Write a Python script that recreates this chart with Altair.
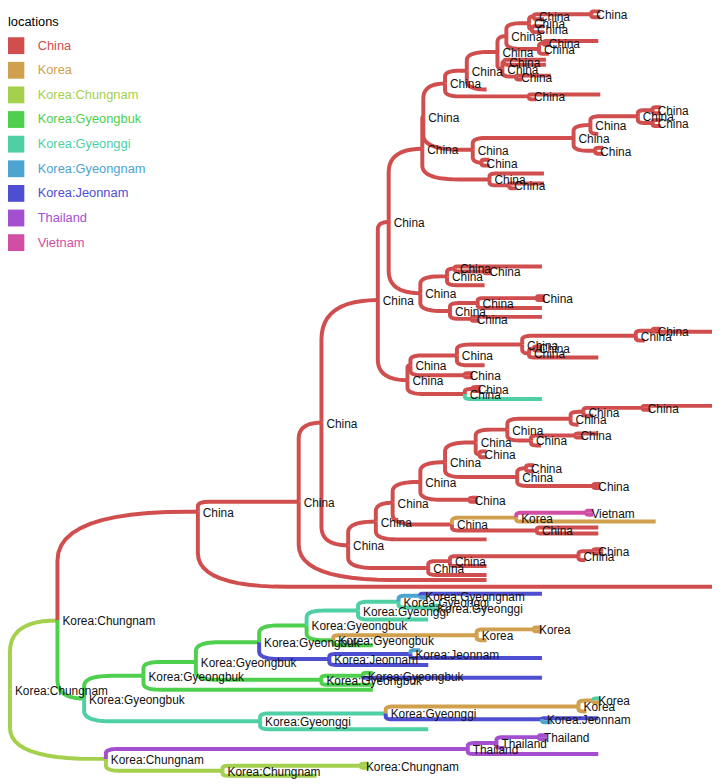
import colorsys
import pandas as pd
import altair as alt

# ---------------- data ----------------
location_names = ["China", "Korea", "Korea:Chungnam", "Korea:Gyeongbuk", "Korea:Gyeonggi",
                  "Korea:Gyeongnam", "Korea:Jeonnam", "Thailand", "Vietnam"]
location_codes = ["C", "K", "CN", "GB", "GG", "GN", "JN", "TH", "VN"]
location_hues = [0, 38, 80, 120, 160, 200, 240, 280, 320]

# (node, parent, divergence, row, location)  -- "" = unnamed tip
clade_backbone = [
    ("R0", None, 0, 693, "CN"), ("R", "R0", 10, 693, "CN"),
    ("A", "R", 58, 623, "CN"), ("L", "R", 107, 763, "CN"),
    ("A1", "A", 200, 513, "C"), ("G", "A", 85, 702, "GB"),
    ("B", "A1", 302, 503, "C"), ("", "A1", 720, 589, "C"),
    ("C", "B", 325, 423, "C"), ("", "B", 492, 582, "C"),
    ("P", "C", 382, 299, "C"), ("D", "C", 352, 547, "C"),
    ("E", "P", 393, 220, "C"), ("F", "P", 412, 380, "C"),
]

clade_china_top = [
    ("N1", "E", 427, 146, "C"), ("W", "E", 425, 292, "C"),
    ("N1a", "N1", 428, 114, "C"), ("V", "N1", 495, 177, "C"),
    ("U1", "N1a", 450, 80, "C"), ("Nm", "N1a", 478, 147, "C"),
    ("U2", "U1", 472, 67, "C"), ("Ub", "U1", 535, 93, "C"),
    ("U3", "U2", 503, 48, "C"), ("", "U2", 492, 86, "C"),
    ("U4", "U3", 512, 32, "C"), ("U8", "U3", 508, 65, "C"),
    ("U6", "U4", 535, 19, "C"), ("U7", "U4", 545, 45, "C"),
    ("U6a", "U6", 540, 12, "C"), ("U6b", "U6", 538, 25, "C"),
    ("Uz", "U6a", 598, 10, "C"), ("", "U6a", 550, 15, "C"),
    ("", "Uz", 607, 7, "C"), ("", "Uz", 607, 13, "C"),
    ("", "U6b", 550, 22, "C"), ("", "U6b", 550, 28, "C"),
    ("U7a", "U7", 550, 39, "C"), ("", "U7", 555, 50, "C"),
    ("", "U7a", 605, 37, "C"), ("", "U7a", 556, 41, "C"),
    ("U8a", "U8", 510, 58, "C"), ("U5", "U8", 522, 73, "C"),
    ("", "U8a", 552, 56, "C"), ("", "U8a", 552, 61, "C"),
    ("", "U5", 557, 72, "C"), ("", "U5", 528, 76, "C"),
    ("", "Ub", 607, 91, "C"), ("", "Ub", 542, 96, "C"),
    ("Q", "Nm", 580, 135, "C"), ("Qb", "Nm", 487, 160, "C"),
    ("Q1", "Q", 597, 122, "C"), ("Qc", "Q", 602, 148, "C"),
    ("Q2", "Q1", 645, 113, "C"), ("", "Q1", 605, 131, "C"),
    ("Q3", "Q2", 660, 107, "C"), ("Q4", "Q2", 660, 120, "C"),
    ("", "Q3", 668, 104, "C"), ("", "Q3", 668, 110, "C"),
    ("", "Q4", 668, 117, "C"), ("", "Q4", 668, 123, "C"),
    ("", "Qc", 610, 145, "C"), ("", "Qc", 610, 151, "C"),
    ("", "Qb", 495, 157, "C"), ("", "Qb", 495, 163, "C"),
    ("", "V", 550, 171, "C"), ("V2", "V", 515, 183, "C"),
    ("", "V2", 550, 181, "C"), ("", "V2", 522, 186, "C"),
]

clade_china_mid = [
    ("W1", "W", 452, 275, "C"), ("W2", "W", 455, 310, "C"),
    ("W1a", "W1", 460, 267, "C"), ("", "W1", 490, 284, "C"),
    ("", "W1a", 548, 265, "C"), ("W1b", "W1a", 490, 270, "C"),
    ("", "W1b", 497, 268, "C"), ("", "W1b", 497, 272, "C"),
    ("W2a", "W2", 483, 302, "C"), ("W2b", "W2", 477, 318, "C"),
    ("W2c", "W2a", 543, 297, "C"), ("", "W2a", 548, 307, "C"),
    ("", "W2c", 551, 295, "C"), ("", "W2c", 551, 299, "C"),
    ("", "W2b", 548, 316, "C"), ("", "W2b", 485, 320, "C"),
    ("F1", "F", 415, 365, "C"), ("F2", "F", 470, 394, "C"),
    ("H", "F1", 462, 355, "C"), ("F1b", "F1", 470, 375, "C"),
    ("H1", "H", 528, 344, "C"), ("", "H", 490, 365, "C"),
    ("H1a", "H1", 643, 335, "C"), ("H1b", "H1", 535, 353, "C"),
    ("H1c", "H1a", 660, 330, "C"), ("", "H1a", 652, 340, "C"),
    ("", "H1c", 720, 331, "C"), ("", "H1c", 668, 328, "C"),
    ("H1d", "H1b", 540, 348, "C"), ("", "H1b", 605, 357, "C"),
    ("", "H1d", 548, 346, "C"), ("", "H1d", 548, 350, "C"),
    ("", "F1b", 478, 373, "C"), ("", "F1b", 478, 377, "C"),
    ("F2a", "F2", 478, 389, "C"), ("", "F2", 548, 399, "GG"),
    ("", "F2a", 486, 387, "C"), ("", "F2a", 486, 391, "C"),
]

clade_china_low = [
    ("D1", "D", 380, 523, "C"), ("D2", "D", 433, 570, "C"),
    ("D3", "D1", 397, 504, "C"), ("", "D1", 492, 541, "C"),
    ("D4", "D3", 425, 483, "C"), ("D5", "D3", 457, 526, "C"),
    ("D7", "D4", 450, 463, "C"), ("D8", "D4", 475, 501, "C"),
    ("", "D8", 483, 499, "C"), ("", "D8", 483, 503, "C"),
    ("D10", "D7", 481, 443, "C"), ("D9", "D7", 523, 478, "C"),
    ("D11", "D10", 513, 430, "C"), ("D10b", "D10", 485, 455, "C"),
    ("", "D10b", 492, 452, "C"), ("", "D10b", 492, 458, "C"),
    ("D12", "D11", 577, 419, "C"), ("D13", "D11", 537, 441, "C"),
    ("D14", "D12", 590, 412, "C"), ("", "D12", 585, 425, "C"),
    ("D15", "D14", 650, 408, "C"), ("", "D14", 600, 416, "C"),
    ("", "D15", 720, 406, "C"), ("", "D15", 658, 410, "C"),
    ("D13a", "D13", 582, 436, "C"), ("", "D13", 547, 446, "C"),
    ("", "D13a", 605, 434, "C"), ("", "D13a", 590, 438, "C"),
    ("D9a", "D9", 532, 469, "C"), ("D9c", "D9", 600, 487, "C"),
    ("", "D9a", 540, 466, "C"), ("", "D9a", 540, 472, "C"),
    ("", "D9c", 607, 485, "C"), ("", "D9c", 607, 489, "C"),
    ("Ko1", "D5", 522, 519, "K"), ("D6", "D5", 543, 532, "C"),
    ("Vn", "Ko1", 593, 514, "VN"), ("", "Ko1", 663, 523, "K"),
    ("", "Vn", 600, 512, "VN"), ("", "Vn", 600, 516, "VN"),
    ("", "D6", 605, 529, "C"), ("", "D6", 605, 535, "C"),
    ("D2a", "D2", 455, 563, "C"), ("", "D2", 492, 577, "C"),
    ("D2b", "D2a", 585, 558, "C"), ("", "D2a", 492, 568, "C"),
    ("D2c", "D2b", 600, 553, "C"), ("", "D2b", 592, 562, "C"),
    ("", "D2c", 610, 551, "C"), ("", "D2c", 610, 555, "C"),
]

clade_korea = [
    ("G1", "G", 145, 679, "GB"), ("G2", "G", 263, 725, "GG"),
    ("G3", "G1", 198, 665, "GB"), ("", "G1", 377, 693, "GB"),
    ("G4", "G3", 262, 645, "GB"), ("G5", "G3", 325, 683, "GB"),
    ("G6", "G4", 310, 628, "GB"), ("J1", "G4", 333, 662, "JN"),
    ("G8", "G6", 362, 613, "GG"), ("G7", "G6", 337, 643, "GB"),
    ("G9", "G8", 403, 604, "GG"), ("", "G8", 433, 622, "GG"),
    ("Gn", "G9", 425, 598, "GN"), ("Gg", "G9", 437, 610, "GG"),
    ("", "Gn", 548, 596, "JN"), ("", "Gn", 432, 600, "GN"),
    ("", "Gg", 445, 608, "GG"), ("", "Gg", 445, 612, "GG"),
    ("K1", "G7", 482, 638, "K"), ("", "G7", 377, 648, "GB"),
    ("K2", "K1", 540, 632, "K"), ("", "K1", 492, 643, "K"),
    ("", "K2", 548, 630, "K"), ("", "K2", 548, 634, "K"),
    ("Jm", "J1", 415, 657, "JN"), ("", "J1", 433, 668, "JN"),
    ("", "Jm", 425, 653, "GN"), ("", "Jm", 548, 661, "JN"),
    ("G10", "G5", 367, 679, "GB"), ("", "G5", 377, 688, "GB"),
    ("", "G10", 548, 681, "JN"), ("", "G10", 377, 676, "GB"),
    ("G11", "G2", 390, 717, "GG"), ("", "G2", 433, 733, "GG"),
    ("K3", "G11", 585, 710, "K"), ("J2", "G11", 548, 723, "JN"),
    ("Kt", "K3", 600, 704, "K"), ("", "K3", 593, 715, "K"),
    ("", "Kt", 607, 702, "GG"), ("", "Kt", 607, 706, "K"),
    ("", "J2", 605, 722, "JN"), ("", "J2", 558, 726, "GN"),
]

clade_south = [
    ("Th1", "L", 473, 753, "TH"), ("L1", "L", 225, 775, "CN"),
    ("Th2", "Th1", 502, 747, "TH"), ("", "Th1", 605, 758, "TH"),
    ("Th3", "Th2", 545, 741, "TH"), ("", "Th2", 510, 752, "TH"),
    ("", "Th3", 553, 739, "TH"), ("", "Th3", 553, 743, "TH"),
    ("L2", "L1", 365, 770, "CN"), ("", "L1", 320, 780, "CN"),
    ("", "L2", 373, 768, "CN"), ("", "L2", 373, 772, "CN"),
]

# ---------------- build tables ----------------
loc_of = dict(zip(location_codes, location_names))
colors = []
for h in location_hues:
    r, g, b = colorsys.hls_to_rgb(h / 360.0, 0.56, 0.58)
    colors.append("#%02x%02x%02x" % (round(r * 255), round(g * 255), round(b * 255)))

rows = []
k = 0
for clade in [clade_backbone, clade_china_top, clade_china_mid, clade_china_low, clade_korea, clade_south]:
    for name, parent, x, y, code in clade:
        if not name:
            k += 1
            name = "tip%d" % k
        rows.append({"node": name, "parent": parent, "x": x, "y": y, "loc": loc_of[code]})
pos = {r["node"]: r for r in rows}
nchild = {}
for r in rows:
    if r["parent"] is not None:
        nchild[r["parent"]] = nchild.get(r["parent"], 0) + 1


def edge_path(px, py, cx, cy):
    dy = cy - py
    length = cx - px
    if abs(dy) < 0.5:
        return [(px, cy), (cx, cy)]
    s = 1 if dy > 0 else -1
    ady = abs(dy)
    rx = max(0.0, min(length, 1.2 * ady))
    ry = min(ady, 0.7 * rx, 0.45 * ady)
    pts = [(px, py), (px, cy - s * ry)]
    x0, y0 = px, cy - s * ry
    x2, y2 = px + rx, cy
    for i in range(1, 13):
        t = i / 12.0
        bx = (1 - t) ** 2 * x0 + 2 * (1 - t) * t * px + t * t * x2
        by = (1 - t) ** 2 * y0 + 2 * (1 - t) * t * cy + t * t * y2
        pts.append((bx, by))
    pts.append((cx, cy))
    return pts


edge_rows = []
for r in rows:
    if r["parent"] is None:
        continue
    p = pos[r["parent"]]
    for i, (ex, ey) in enumerate(edge_path(p["x"], p["y"], r["x"], r["y"])):
        edge_rows.append({"edge": r["node"], "i": i, "x": ex, "y": ey, "loc": r["loc"]})
edges = pd.DataFrame(edge_rows)
labels = pd.DataFrame([r for r in rows if nchild.get(r["node"], 0) >= 2])

legend = pd.DataFrame({
    "loc": location_names,
    "ly": [41.7 + 24.9 * i for i in range(len(location_names))],
    "sx": [16.0] * len(location_names),
    "tx": [38.0] * len(location_names),
})
legend_title = pd.DataFrame({"t": ["locations"], "x": [8.0], "y": [18.0]})

# ---------------- chart ----------------
xs = alt.Scale(domain=[8, 722], range=[0, 714], nice=False, zero=False)
ys = alt.Scale(domain=[8, 784], range=[0, 776], nice=False, zero=False)
cs = alt.Scale(domain=location_names, range=colors)
FONT = "Liberation Sans"

lines = alt.Chart(edges).mark_line(strokeWidth=4, strokeCap="butt", strokeJoin="round").encode(
    x=alt.X("x:Q", scale=xs, axis=None),
    y=alt.Y("y:Q", scale=ys, axis=None),
    color=alt.Color("loc:N", scale=cs, legend=None),
    detail="edge:N",
    order="i:Q",
)

node_text = alt.Chart(labels).mark_text(
    align="left", baseline="middle", dx=5, dy=1, fontSize=12, font=FONT, color="#111111"
).encode(
    x=alt.X("x:Q", scale=xs, axis=None),
    y=alt.Y("y:Q", scale=ys, axis=None),
    text="loc:N",
)

leg_sq = alt.Chart(legend).mark_square(size=290, opacity=1, filled=True).encode(
    x=alt.X("sx:Q", scale=xs, axis=None),
    y=alt.Y("ly:Q", scale=ys, axis=None),
    color=alt.Color("loc:N", scale=cs, legend=None),
)
leg_txt = alt.Chart(legend).mark_text(align="left", baseline="middle", fontSize=13, font=FONT).encode(
    x=alt.X("tx:Q", scale=xs, axis=None),
    y=alt.Y("ly:Q", scale=ys, axis=None),
    text="loc:N",
    color=alt.Color("loc:N", scale=cs, legend=None),
)
leg_title = alt.Chart(legend_title).mark_text(
    align="left", baseline="middle", fontSize=13, font=FONT, color="black"
).encode(
    x=alt.X("x:Q", scale=xs, axis=None),
    y=alt.Y("y:Q", scale=ys, axis=None),
    text="t:N",
)

chart = alt.layer(lines, node_text, leg_sq, leg_txt, leg_title).properties(
    width=714, height=776, padding=0, autosize="none"
).configure_view(stroke=None)

chart.save("out.html", embed_options={"renderer": "svg", "actions": False})
